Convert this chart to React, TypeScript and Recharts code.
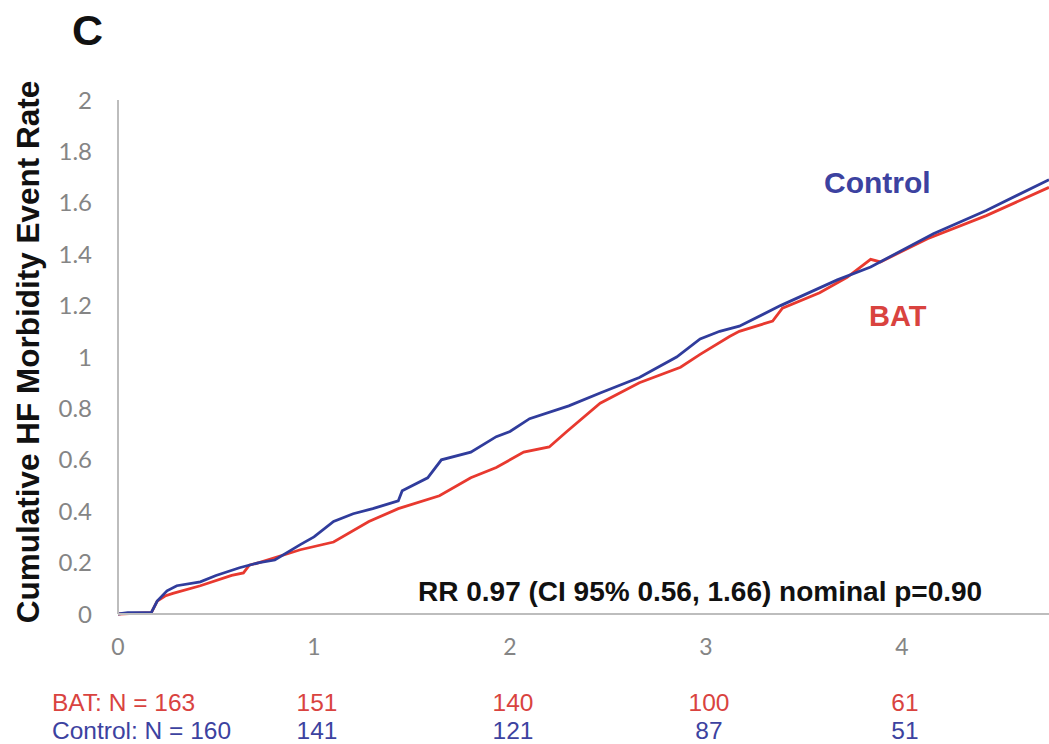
import { LineChart, Line, XAxis, YAxis } from "recharts"

// time in years, cumulative HF morbidity event rate
const controlT = [0, 0.05, 0.17, 0.2, 0.25, 0.3, 0.42, 0.5, 0.62, 0.72, 0.8, 0.93, 1.0, 1.1, 1.2, 1.3, 1.43, 1.45, 1.58, 1.65, 1.8, 1.93, 2.0, 2.1, 2.3, 2.46, 2.66, 2.85, 2.97, 3.07, 3.17, 3.38, 3.67, 3.84, 4.16, 4.43, 4.75]
const controlRate = [0, 0.005, 0.005, 0.05, 0.09, 0.11, 0.125, 0.15, 0.18, 0.2, 0.21, 0.27, 0.3, 0.36, 0.39, 0.41, 0.44, 0.48, 0.53, 0.6, 0.63, 0.69, 0.71, 0.76, 0.81, 0.86, 0.92, 1.0, 1.07, 1.1, 1.12, 1.2, 1.3, 1.35, 1.48, 1.57, 1.69]

const batT = [0, 0.17, 0.2, 0.24, 0.28, 0.42, 0.58, 0.64, 0.67, 0.72, 0.93, 1.1, 1.28, 1.43, 1.64, 1.8, 1.93, 2.07, 2.2, 2.29, 2.46, 2.66, 2.87, 2.97, 3.12, 3.17, 3.34, 3.39, 3.58, 3.72, 3.84, 3.89, 4.13, 4.43, 4.75]
const batRate = [0, 0.005, 0.05, 0.07, 0.08, 0.11, 0.15, 0.16, 0.19, 0.2, 0.25, 0.28, 0.36, 0.41, 0.46, 0.53, 0.57, 0.63, 0.65, 0.71, 0.82, 0.9, 0.96, 1.01, 1.08, 1.1, 1.14, 1.19, 1.25, 1.31, 1.38, 1.37, 1.46, 1.55, 1.66]

const xTicks = [0, 1, 2, 3, 4]
const yTicks = [0, 0.2, 0.4, 0.6, 0.8, 1, 1.2, 1.4, 1.6, 1.8, 2]
const batAtRisk = ["BAT: N = 163", "151", "140", "100", "61"]
const controlAtRisk = ["Control: N = 160", "141", "121", "87", "51"]

const controlData = controlT.map((t, i) => ({ t, v: controlRate[i] }))
const batData = batT.map((t, i) => ({ t, v: batRate[i] }))

const RED = "#e8392f"
const BLUE = "#303c9c"
const RED_TXT = "#d9433f"
const BLUE_TXT = "#3c42a0"
const GRAY = "#858585"
const ARIAL = "Liberation Sans, Arial, sans-serif"

// x tick plus the two number-at-risk rows under it
const XTick = (props: any) => {
  const { x, y, payload, index } = props
  const first = index === 0
  return (
    <g>
      <text x={x} y={y + 41} textAnchor="middle" fill={GRAY} fontSize={23} fontFamily="Lato, sans-serif">
        {payload.value}
      </text>
      <text x={first ? 52 : x + 3} y={y + 97} textAnchor={first ? "start" : "middle"} fill={RED_TXT} fontSize={24.5} fontFamily={ARIAL}>
        {batAtRisk[index]}
      </text>
      <text x={first ? 52 : x + 3} y={y + 125} textAnchor={first ? "start" : "middle"} fill={BLUE_TXT} fontSize={24.5} fontFamily={ARIAL}>
        {controlAtRisk[index]}
      </text>
    </g>
  )
}

export default function App() {
  return (
    <div style={{ position: "absolute", left: 0, top: 0, width: 1049, height: 744, background: "#fff", overflow: "hidden" }}>
      <LineChart width={1049} height={744} margin={{ top: 100, right: 0, bottom: 0, left: 0 }}>
        <XAxis
          dataKey="t"
          type="number"
          domain={[0, 4.75]}
          ticks={xTicks}
          allowDataOverflow
          stroke="#bdbdbd"
          strokeWidth={2}
          tickLine={false}
          tickSize={0}
          tickMargin={0}
          height={130}
          interval={0}
          tick={<XTick />}
        />
        <YAxis
          type="number"
          domain={[0, 2]}
          ticks={yTicks}
          width={118}
          stroke="#bdbdbd"
          strokeWidth={2}
          tickLine={false}
          tickSize={0}
          tickMargin={26}
          interval={0}
          tick={{ fill: GRAY, fontSize: 24, fontFamily: "Lato, sans-serif" }}
        />
        <Line data={batData} dataKey="v" type="linear" stroke={RED} strokeWidth={2.8} dot={false} isAnimationActive={false} />
        <Line data={controlData} dataKey="v" type="linear" stroke={BLUE} strokeWidth={2.8} dot={false} isAnimationActive={false} />
      </LineChart>
      <div style={{ position: "absolute", left: 72, top: 9, fontSize: 43, lineHeight: 1, fontWeight: "bold", fontFamily: ARIAL, color: "#111" }}>C</div>
      <div
        style={{
          position: "absolute",
          left: 29,
          top: 352,
          transform: "translate(-50%, -50%) rotate(-90deg)",
          whiteSpace: "nowrap",
          fontSize: 31.5,
          lineHeight: 1,
          fontWeight: "bold",
          fontFamily: ARIAL,
          color: "#111",
        }}
      >
        Cumulative HF Morbidity Event Rate
      </div>
      <div style={{ position: "absolute", left: 824, top: 168, fontSize: 30, lineHeight: 1, fontWeight: "bold", fontFamily: ARIAL, color: BLUE_TXT }}>Control</div>
      <div style={{ position: "absolute", left: 869, top: 302, fontSize: 29, lineHeight: 1, fontWeight: "bold", fontFamily: ARIAL, color: RED_TXT }}>BAT</div>
      <div style={{ position: "absolute", left: 418, top: 578, fontSize: 28, lineHeight: 1, fontWeight: "bold", fontFamily: ARIAL, color: "#111", whiteSpace: "nowrap" }}>
        RR 0.97 (CI 95% 0.56, 1.66) nominal p=0.90
      </div>
    </div>
  )
}
